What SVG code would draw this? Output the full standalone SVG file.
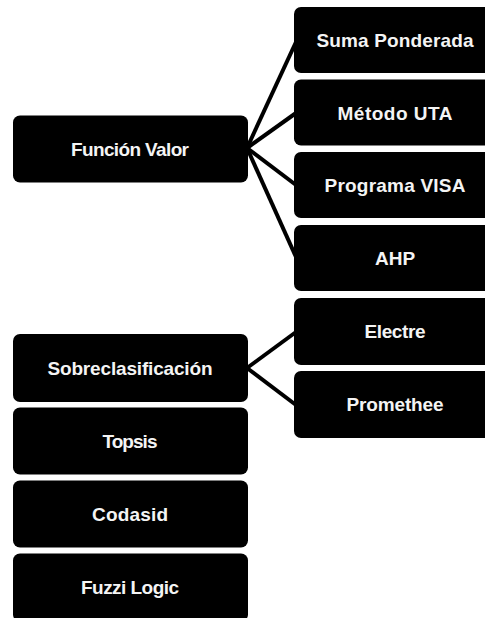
<svg xmlns="http://www.w3.org/2000/svg" width="485" height="618" viewBox="0 0 485 618">
<style>
.box{fill:#000;}
.lbl{fill:#f4f4f4;font-family:"Liberation Sans",Arial,sans-serif;font-weight:bold;font-size:19px;text-anchor:middle;}
.con{stroke:#000;stroke-width:4;fill:none;stroke-linecap:butt;}
</style>
<rect width="485" height="618" fill="#fff"/>
<g id="connectors">
<line class="con" x1="247" y1="148" x2="296" y2="42"/>
<line class="con" x1="247" y1="148" x2="296" y2="113"/>
<line class="con" x1="247" y1="148" x2="296" y2="185"/>
<line class="con" x1="247" y1="148" x2="296" y2="257"/>
<line class="con" x1="247" y1="368" x2="296" y2="332"/>
<line class="con" x1="247" y1="368" x2="296" y2="405"/>
</g>
<g id="funcion-valor"><rect class="box" x="13" y="115.5" width="235" height="67" rx="7"/><text class="lbl" x="130" y="155.5" textLength="118">Función Valor</text></g>
<g id="suma-ponderada"><rect class="box" x="294" y="7" width="204" height="66" rx="7"/><text class="lbl" x="395" y="47" textLength="157">Suma Ponderada</text></g>
<g id="metodo-uta"><rect class="box" x="294" y="79.5" width="204" height="66" rx="7"/><text class="lbl" x="395" y="119.5" textLength="115">Método UTA</text></g>
<g id="programa-visa"><rect class="box" x="294" y="152" width="204" height="66" rx="7"/><text class="lbl" x="395" y="192" textLength="141">Programa VISA</text></g>
<g id="ahp"><rect class="box" x="294" y="225" width="204" height="66" rx="7"/><text class="lbl" x="395" y="265">AHP</text></g>
<g id="electre"><rect class="box" x="294" y="298" width="204" height="67" rx="7"/><text class="lbl" x="395" y="338" textLength="61">Electre</text></g>
<g id="promethee"><rect class="box" x="294" y="371" width="204" height="67" rx="7"/><text class="lbl" x="395" y="411" textLength="97">Promethee</text></g>
<g id="sobreclasificacion"><rect class="box" x="13" y="334" width="235" height="68" rx="7"/><text class="lbl" x="130" y="374.5" textLength="165">Sobreclasificación</text></g>
<g id="topsis"><rect class="box" x="13" y="407.5" width="235" height="67" rx="7"/><text class="lbl" x="130" y="447.5" textLength="55">Topsis</text></g>
<g id="codasid"><rect class="box" x="13" y="480.5" width="235" height="67" rx="7"/><text class="lbl" x="130" y="520.5" textLength="76">Codasid</text></g>
<g id="fuzzi-logic"><rect class="box" x="13" y="553.5" width="235" height="68" rx="7"/><text class="lbl" x="130" y="594" textLength="98">Fuzzi Logic</text></g>
</svg>
